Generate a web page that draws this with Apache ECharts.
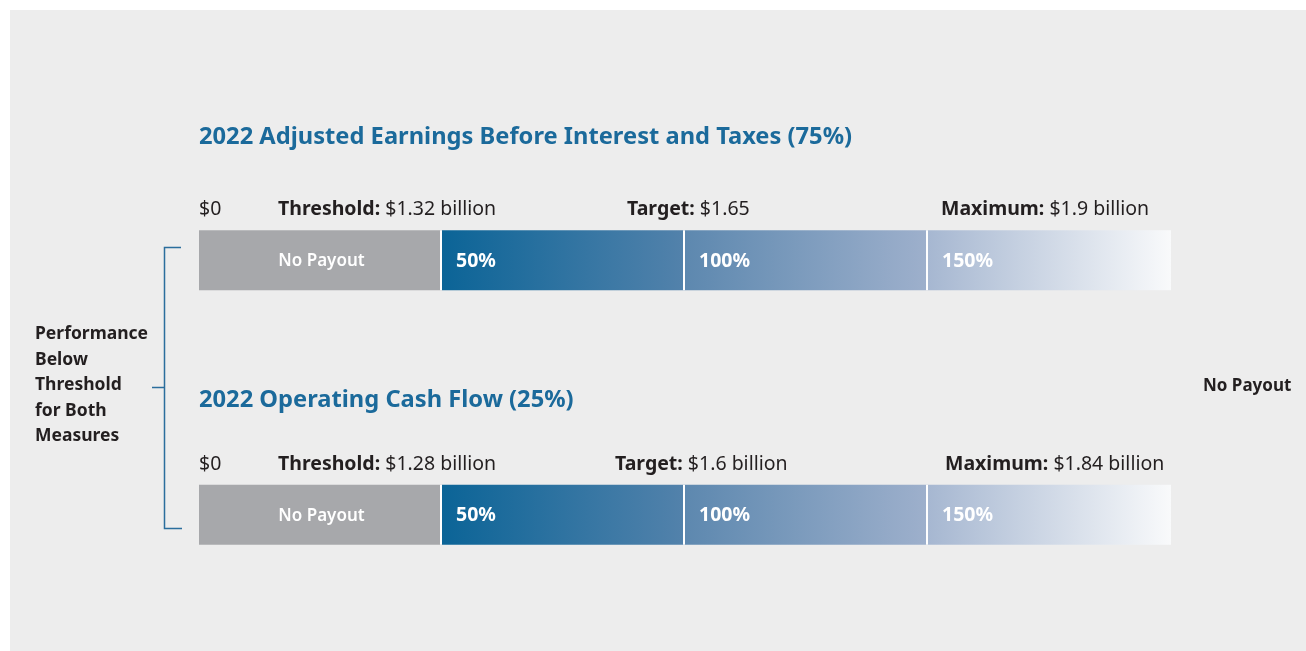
<!DOCTYPE html>
<html>
<head>
<meta charset="utf-8">
<title>2022 Performance Measures</title>
<script src="https://cdn.jsdelivr.net/npm/echarts@6/dist/echarts.min.js"></script>
<style>
  html, body { margin: 0; padding: 0; background: #ffffff; }
  #panel { position: absolute; left: 10px; top: 10px; right: 0; bottom: 0; background: #ededed; }
  #chart { position: absolute; left: 0; top: 0; width: 1306px; height: 651px; }
</style>
</head>
<body>
<div id="panel"></div>
<div id="chart"></div>
<script>
// Performance measures, one bar each
const measures = [
  '2022 Adjusted Earnings Before Interest and Taxes (75%)',
  '2022 Operating Cash Flow (25%)'
];
// Payout levels, one equal-width segment each
const payoutLevels = ['No Payout', '50%', '100%', '150%'];
const segmentWidths = [1, 1, 1, 1];
// Goal values written above each bar
const thresholdValues = ['$1.32 billion', '$1.28 billion'];
const targetValues = ['$1.65', '$1.6 billion'];
const maximumValues = ['$1.9 billion', '$1.84 billion'];

const FONT = '"Noto Sans"';
const BLUE = '#1b6a9b';
const INK = '#231f20';

// segment fills: grey for no payout, then a blue-to-white ramp
const segmentFills = [
  '#a7a8ab',
  ['#0b6497', '#5382ab'],
  ['#5d88af', '#9eb0cc'],
  ['#a6b7d1', '#f9fafb']
];

// [measureIndex, start, end, levelIndex]
const segData = [];
measures.forEach((m, mi) => {
  let acc = 0;
  segmentWidths.forEach((w, li) => {
    segData.push([mi, acc, acc + w, li]);
    acc += w;
  });
});

function fillFor(li) {
  const f = segmentFills[li];
  if (typeof f === 'string') return f;
  return new echarts.graphic.LinearGradient(0, 0, 1, 0, [
    { offset: 0, color: f[0] }, { offset: 1, color: f[1] }
  ]);
}

function renderSegment(params, api) {
  const mi = api.value(0);
  const p0 = api.coord([api.value(1), mi]);
  const p1 = api.coord([api.value(2), mi]);
  const li = api.value(3);
  const h = 60;
  const y = p0[1] - h / 2;
  const children = [{
    type: 'rect',
    shape: { x: p0[0], y: y, width: p1[0] - p0[0], height: h },
    style: { fill: fillFor(li) }
  }];
  if (li > 0) {
    children.push({
      type: 'rect',
      shape: { x: p0[0] - 2, y: y, width: 2, height: h },
      style: { fill: '#ffffff' }
    });
  }
  const isFirst = li === 0;
  children.push({
    type: 'text',
    style: {
      text: payoutLevels[li],
      x: isFirst ? (p0[0] + p1[0]) / 2 + 1 : p0[0] + 14,
      y: p0[1] + 1,
      align: isFirst ? 'center' : 'left',
      verticalAlign: 'middle',
      fill: '#ffffff',
      font: (isFirst ? '600 17px ' : 'bold 19.5px ') + FONT
    }
  });
  return { type: 'group', children: children };
}

function textAt(x, y, text, font, extra) {
  return {
    type: 'text',
    style: Object.assign({ x: x, y: y, text: text, font: font, fill: INK, verticalAlign: 'middle' }, extra || {})
  };
}

// goal line written above each bar
function goalRow(i, y, xs) {
  const rich = { b: { fontWeight: 'bold', fontSize: 19.5, fontFamily: FONT, fill: INK } };
  const font = '19.5px ' + FONT;
  const ex = { rich: rich };
  return [
    textAt(xs[0], y, '$0', font),
    textAt(xs[1], y, '{b|Threshold:} ' + thresholdValues[i], font, ex),
    textAt(xs[2], y, '{b|Target:} ' + targetValues[i], font, ex),
    textAt(xs[3], y, '{b|Maximum:} ' + maximumValues[i], font, ex)
  ];
}

const graphics = [
  textAt(199, 137, measures[0], 'bold 23.7px ' + FONT, { fill: BLUE }),
  textAt(199, 400, measures[1], 'bold 23.7px ' + FONT, { fill: BLUE })
]
  .concat(goalRow(0, 209, [199, 278, 627, 941]))
  .concat(goalRow(1, 464, [199, 278, 615, 945]))
  .concat([
    {
      type: 'polyline',
      shape: { points: [[181, 247.5], [164.5, 247.5], [164.5, 528.5], [182, 528.5]] },
      style: { stroke: '#2b6e9d', lineWidth: 1.5, fill: null }
    },
    {
      type: 'line',
      shape: { x1: 152, y1: 387.5, x2: 164.5, y2: 387.5 },
      style: { stroke: '#2b6e9d', lineWidth: 1.5 }
    },
    {
      type: 'text',
      style: {
        x: 35, y: 321.5, verticalAlign: 'top',
        text: 'Performance\nBelow\nThreshold\nfor Both\nMeasures',
        font: 'bold 17.5px ' + FONT, fill: INK, lineHeight: 25.5
      }
    },
    textAt(1203, 386, 'No Payout', 'bold 17px ' + FONT)
  ]);

const chart = echarts.init(document.getElementById('chart'), null, { renderer: 'canvas' });
chart.setOption({
  backgroundColor: 'transparent',
  animation: false,
  grid: { left: 199, right: 135, top: 133, bottom: 9 },
  xAxis: { type: 'value', min: 0, max: 4, show: false },
  yAxis: { type: 'category', data: measures, inverse: true, show: false },
  series: [{
    type: 'custom',
    renderItem: renderSegment,
    data: segData,
    encode: { x: [1, 2], y: 0 }
  }],
  graphic: graphics
});
</script>
</body>
</html>
